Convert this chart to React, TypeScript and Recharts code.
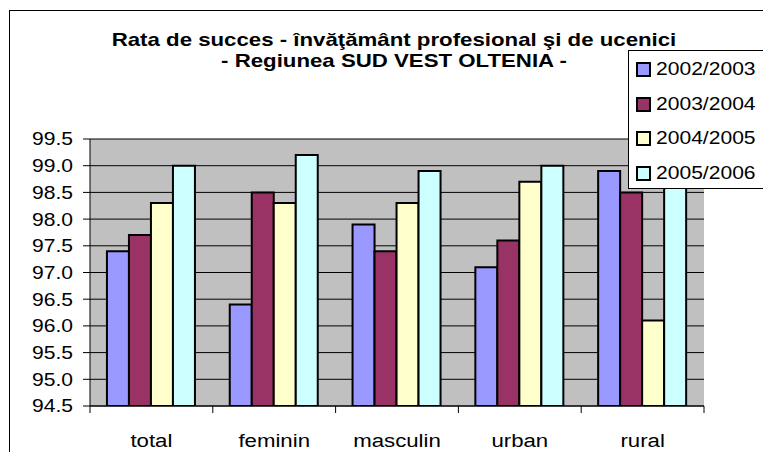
import React from 'react';
import { BarChart, Bar, XAxis, YAxis, CartesianGrid, Legend } from 'recharts';

const categories = ['total', 'feminin', 'masculin', 'urban', 'rural'];
const seriesNames = ['2002/2003', '2003/2004', '2004/2005', '2005/2006'];
const values2002 = [97.4, 96.4, 97.9, 97.1, 98.9];
const values2003 = [97.7, 98.5, 97.4, 97.6, 98.5];
const values2004 = [98.3, 98.3, 98.3, 98.7, 96.1];
const values2005 = [99.0, 99.2, 98.9, 99.0, 99.0];
const yTicks = [94.5, 95.0, 95.5, 96.0, 96.5, 97.0, 97.5, 98.0, 98.5, 99.0, 99.5];
const titleLines = [
  'Rata de succes - învăţământ profesional şi de ucenici',
  '- Regiunea SUD VEST OLTENIA -',
];

const colors = ['#9999FF', '#993366', '#FFFFCC', '#CCFFFF'];
const seriesValues = [values2002, values2003, values2004, values2005];

const data = categories.map((name, i) => {
  const row: Record<string, string | number> = { name };
  seriesNames.forEach((s, k) => {
    row[s] = seriesValues[k][i];
  });
  return row;
});

const FONT = '"Liberation Sans", Arial, sans-serif';
const SX = 1.17;

const YTick = ({ x, y, payload }: any) => (
  <text
    transform={`translate(${x},${y}) scale(${SX},1)`}
    textAnchor="end"
    dy="0.355em"
    fontSize={18}
    fontFamily={FONT}
    fill="#000"
  >
    {Number(payload.value).toFixed(1)}
  </text>
);

const XTick = ({ x, y, payload, index }: any) => {
  const half = payload && payload.offset ? payload.offset : 61.4;
  const axisY = y - 28;
  return (
    <g>
      <line x1={x - half} x2={x - half} y1={axisY} y2={axisY + 7} stroke="#000" />
      {index === categories.length - 1 && (
        <line x1={x + half} x2={x + half} y1={axisY} y2={axisY + 7} stroke="#000" />
      )}
      <text
        transform={`translate(${x},${y}) scale(${SX},1)`}
        textAnchor="middle"
        dy="0.71em"
        fontSize={19}
        fontFamily={FONT}
        fill="#000"
      >
        {payload.value}
      </text>
    </g>
  );
};

const LegendBox = ({ payload }: any) => (
  <div style={{ padding: '1px 0 0 7px' }}>
    {(payload || []).map((entry: any) => (
      <div key={entry.value} style={{ height: 34.7, display: 'flex', alignItems: 'center' }}>
        <span
          style={{
            width: 11,
            height: 11,
            border: '2px solid #000',
            background: entry.color,
            marginRight: 5,
            flex: 'none',
          }}
        />
        <span
          style={{
            fontSize: 18,
            fontFamily: FONT,
            display: 'inline-block',
            transform: `scaleX(${SX})`,
            transformOrigin: 'left center',
            whiteSpace: 'nowrap',
          }}
        >
          {entry.value}
        </span>
      </div>
    ))}
  </div>
);

const App = () => (
  <div
    style={{
      position: 'absolute',
      left: 0,
      top: 0,
      width: 763,
      height: 452,
      overflow: 'hidden',
      background: '#fff',
      fontFamily: FONT,
    }}
  >
    <div
      style={{
        position: 'absolute',
        left: 9,
        top: 10,
        width: 900,
        height: 600,
        border: '1px solid #000',
      }}
    />
    {titleLines.map((line, i) => (
      <div
        key={line}
        style={{
          position: 'absolute',
          left: 394,
          top: 29 + i * 21,
          fontSize: 19,
          lineHeight: '21px',
          fontWeight: 'bold',
          whiteSpace: 'nowrap',
          transform: `translateX(-50%) scaleX(${SX})`,
        }}
      >
        {line}
      </div>
    ))}
    <div style={{ position: 'absolute', left: 0, top: 0 }}>
      <BarChart
        width={763}
        height={452}
        data={data}
        margin={{ top: 139, right: 59, bottom: 0, left: 0 }}
        barCategoryGap="13.8%"
        barGap={0}
      >
        <CartesianGrid vertical={false} stroke="#000" fill="#C0C0C0" fillOpacity={1} />
        {seriesNames.map((s, k) => (
          <Bar
            key={s}
            dataKey={s}
            name={s}
            fill={colors[k]}
            stroke="#000"
            strokeWidth={2}
            isAnimationActive={false}
          />
        ))}
        <XAxis
          xAxisId="top"
          orientation="top"
          dataKey="name"
          height={0}
          tick={false}
          tickLine={false}
          axisLine={{ stroke: '#808080', strokeWidth: 2 }}
        />
        <YAxis
          yAxisId="right"
          orientation="right"
          width={0}
          domain={[94.5, 99.5]}
          tick={false}
          tickLine={false}
          axisLine={{ stroke: '#808080', strokeWidth: 2 }}
        />
        <XAxis
          dataKey="name"
          height={46}
          tickSize={7}
          tickMargin={21}
          tickLine={false}
          axisLine={{ stroke: '#000' }}
          tick={<XTick />}
          interval={0}
        />
        <YAxis
          width={90}
          type="number"
          domain={[94.5, 99.5]}
          ticks={yTicks}
          interval={0}
          allowDataOverflow
          tickSize={7}
          tickMargin={10}
          tickLine={{ stroke: '#000' }}
          axisLine={{ stroke: '#000' }}
          tick={<YTick />}
        />
        <Legend
          layout="horizontal"
          verticalAlign="middle"
          align="center"
          width={200}
          height={139}
          wrapperStyle={{
            left: 628,
            top: 50,
            border: '1px solid #000',
            background: '#fff',
            boxSizing: 'border-box',
          }}
          content={<LegendBox />}
        />
      </BarChart>
    </div>
  </div>
);

export default App;
